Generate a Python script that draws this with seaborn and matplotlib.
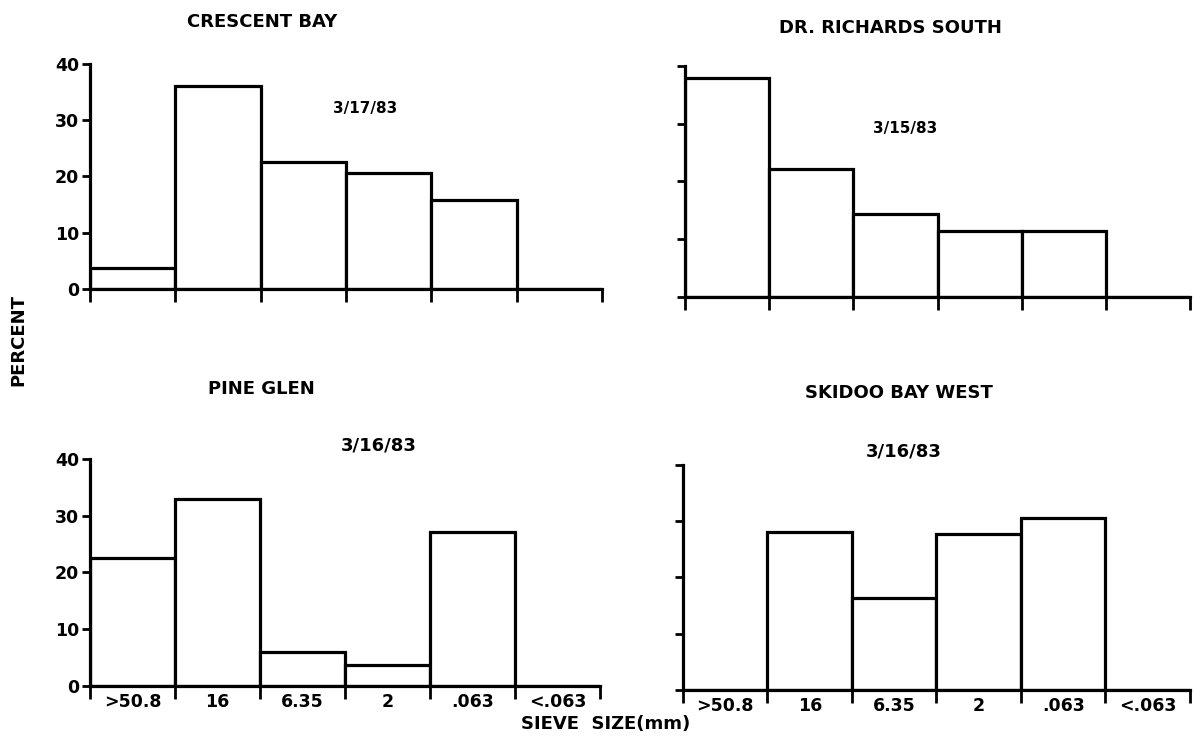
import numpy as np
import pandas as pd
import matplotlib
matplotlib.use("Agg")
import matplotlib.pyplot as plt
import seaborn as sns

# Sieve classes (mm) and percent retained per site
sieve_labels = [">50.8", "16", "6.35", "2", ".063", "<.063"]
crescent_bay = [3.8, 36.0, 22.5, 20.6, 15.8, 0.0]
dr_richards_south = [38.0, 22.2, 14.4, 11.4, 11.4, 0.0]
pine_glen = [22.5, 33.0, 5.9, 3.7, 27.1, 0.0]
skidoo_bay_west = [0.0, 28.0, 16.3, 27.8, 30.6, 0.0]

site_names = ["CRESCENT BAY", "DR. RICHARDS SOUTH", "PINE GLEN", "SKIDOO BAY WEST"]
site_dates = ["3/17/83", "3/15/83", "3/16/83", "3/16/83"]
y_ticks = [0, 10, 20, 30, 40]

sns.set_theme(style="white")
plt.rcParams["font.family"] = ["DejaVu Sans"]
plt.rcParams["font.weight"] = "bold"
for key in ("text.color", "axes.labelcolor", "xtick.color", "ytick.color"):
    plt.rcParams[key] = "black"

fig = plt.figure(figsize=(11.94, 7.44), dpi=100)

# axes rectangles in figure fraction: [left, bottom, width, height]
rects = [
    [0.0754, 0.6116, 0.4288, 0.3024],
    [0.5737, 0.6008, 0.4230, 0.3105],
    [0.0754, 0.0780, 0.4271, 0.3051],
    [0.5720, 0.0726, 0.4246, 0.3024],
]
# title / date placement in axes fraction
title_pos = [(0.336, 1.187), (0.406, 1.165), (0.336, 1.31), (0.426, 1.32)]
date_pos = [(0.537, 0.80), (0.436, 0.73), (0.566, 1.06), (0.436, 1.06)]
date_size = [11, 11, 13, 13]

series = [crescent_bay, dr_richards_south, pine_glen, skidoo_bay_west]

for i, vals in enumerate(series):
    ax = fig.add_axes(rects[i])
    df = pd.DataFrame({"sieve": sieve_labels, "percent": vals})
    sns.barplot(data=df, x="sieve", y="percent", order=sieve_labels,
                color="white", edgecolor="black", linewidth=2.3,
                width=1.0, saturation=1, ax=ax)
    ax.set_xlim(-0.5, 5.5)
    ax.set_ylim(0, 40)
    ax.set_xlabel("")
    ax.set_ylabel("")
    for side in ("top", "right"):
        ax.spines[side].set_visible(False)
    for side in ("left", "bottom"):
        ax.spines[side].set_linewidth(2.3)
        ax.spines[side].set_color("black")

    # ticks at bin boundaries, labels centred in each bin
    ax.set_xticks(np.arange(-0.5, 6.0, 1.0))
    ax.set_xticklabels([""] * 7)
    ax.tick_params(axis="x", which="major", direction="out", length=9,
                   width=2.0, color="black", bottom=True)
    ax.set_yticks(y_ticks)
    ax.tick_params(axis="y", direction="out", length=6, width=2.0,
                   color="black", left=True, labelsize=12.5, pad=2)
    if i == 1 or i == 3:
        ax.set_yticklabels([""] * len(y_ticks))
    else:
        ax.set_yticklabels([str(t) for t in y_ticks], fontweight="bold")
    if i >= 2:
        ax.set_xticks(np.arange(6), minor=True)
        ax.set_xticklabels(sieve_labels, minor=True, fontsize=12.5,
                           fontweight="bold")
        ax.tick_params(axis="x", which="minor", length=0, pad=5)

    ax.text(title_pos[i][0], title_pos[i][1], site_names[i],
            transform=ax.transAxes, ha="center", va="center",
            fontsize=13, fontweight="bold")
    ax.text(date_pos[i][0], date_pos[i][1], site_dates[i],
            transform=ax.transAxes, ha="center", va="center",
            fontsize=date_size[i], fontweight="bold")

fig.text(0.015, 0.543, "PERCENT", rotation=90, ha="center", va="center",
         fontsize=13, fontweight="bold")
fig.text(0.507, 0.027, "SIEVE  SIZE(mm)", ha="center", va="center",
         fontsize=13, fontweight="bold")

fig.savefig("out.png", dpi=100, facecolor="white")
